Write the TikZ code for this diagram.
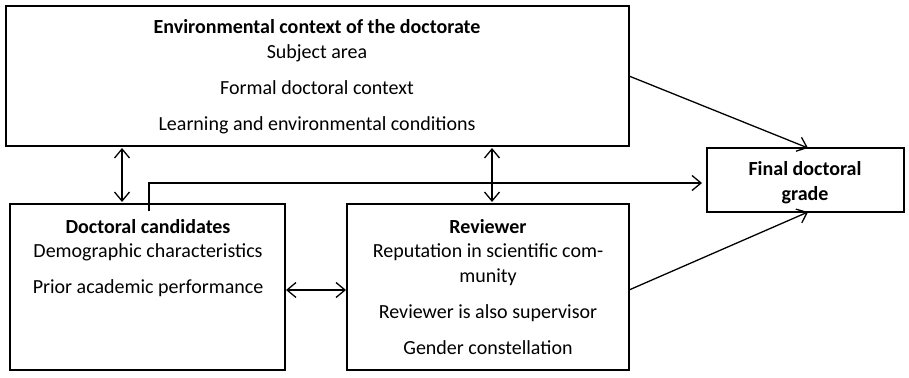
\documentclass[tikz,border=0pt]{standalone}
\usepackage{fontspec}
\setmainfont{Carlito}
\usetikzlibrary{arrows.meta}
\begin{document}
\begin{tikzpicture}[x=1pt,y=-1pt,
  box/.style={draw, line width=1.3pt, inner sep=0pt, outer sep=0pt},
  txt/.style={anchor=base, inner sep=0pt, font=\fontsize{20}{24}\selectfont},
  btxt/.style={txt, font=\fontsize{20}{24}\selectfont\bfseries},
  tip/.style={Straight Barb[length=9pt,width=15pt,line width=1.3pt]},
  conn/.style={line width=1.3pt, -{Straight Barb[length=9pt,width=15pt,line width=1.3pt]}},
  dconn/.style={line width=1.3pt, {Straight Barb[length=9pt,width=15pt,line width=1.3pt]}-{Straight Barb[length=9pt,width=15pt,line width=1.3pt]}}]
\useasboundingbox (0,0) rectangle (909,377);
\fill[white] (0,0) rectangle (909,377);
% boxes
\node[box, minimum width=623pt, minimum height=140pt] (env) at (317.5,76) {};
\node[box, minimum width=275pt, minimum height=166pt] (cand) at (147.5,287) {};
\node[box, minimum width=282pt, minimum height=166pt] (rev) at (488,287) {};
\node[box, minimum width=197pt, minimum height=64pt] (final) at (805.5,180) {};
% texts
\node[btxt] (e0) at (317,34) {Environmental context of the doctorate};
\node[txt] (e1) at (317,59) {Subject area};
\node[txt] (e2) at (317,95) {Formal doctoral context};
\node[txt] (e3) at (317,131) {Learning and environmental conditions};
\node[btxt] (c0) at (148,233) {Doctoral candidates};
\node[txt] (c1) at (148,257) {Demographic characteristics};
\node[txt] (c2) at (148,293) {Prior academic performance};
\node[btxt] (r0) at (488,233) {Reviewer};
\node[txt] (r1) at (488,257) {Reputation in scientific com-};
\node[txt] (r2) at (488,282) {munity};
\node[txt] (r3) at (488,318) {Reviewer is also supervisor};
\node[txt] (r4) at (488,354) {Gender constellation};
\node[btxt] (f0) at (805,175) {Final doctoral};
\node[btxt] (f1) at (805,200) {grade};
% connectors
\draw[dconn, shorten <=2pt, shorten >=2pt] ([xshift=116pt]env.south west) -- ([xshift=112pt]cand.north west);
\draw[dconn, shorten <=2pt, shorten >=2pt] ([xshift=486pt]env.south west) -- ([xshift=145pt]rev.north west);
\draw[dconn, shorten <=1pt, shorten >=1pt] ([yshift=-3pt]cand.east) -- ([yshift=-3pt]rev.west);
\draw[conn, shorten >=5pt] ([xshift=139pt,yshift=-7pt]cand.north west) |- ([yshift=-3pt]final.west);
\draw[conn] (env.east) -- ([xshift=101pt]final.north west);
\draw[conn] ([yshift=-3pt]rev.east) -- ([xshift=101pt]final.south west);
\end{tikzpicture}
\end{document}
